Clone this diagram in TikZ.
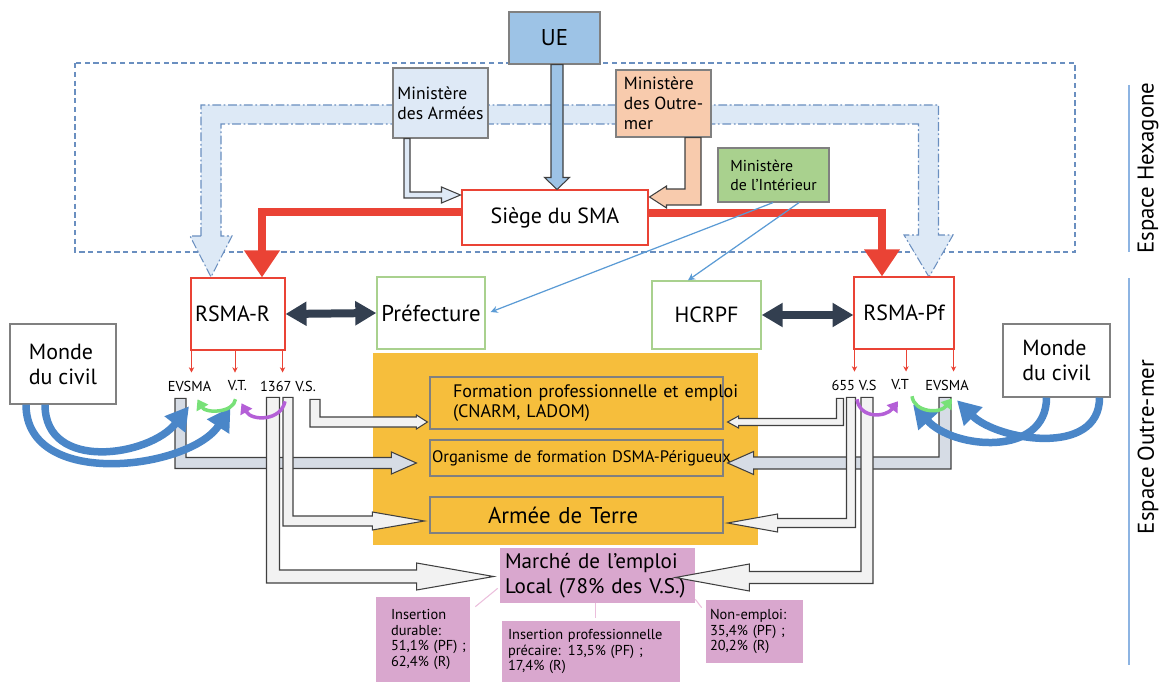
\documentclass[tikz,border=0pt]{standalone}
\usepackage{fontspec}
\setmainfont{PT Sans}
\usepackage{tikz}
\usetikzlibrary{arrows.meta,calc,positioning}
\usepackage{xcolor}
\definecolor{uefill}{RGB}{157,195,230}
\definecolor{armfill}{RGB}{222,233,246}
\definecolor{omfill}{RGB}{248,203,173}
\definecolor{intfill}{RGB}{169,209,142}
\definecolor{boxgrey}{RGB}{128,128,128}
\definecolor{smared}{RGB}{234,67,53}
\definecolor{prefgreen}{RGB}{169,209,142}
\definecolor{darknavy}{RGB}{51,63,80}
\definecolor{zonefill}{RGB}{246,190,60}
\definecolor{mauve}{RGB}{217,167,206}
\definecolor{bandfill}{RGB}{221,233,246}
\definecolor{bandline}{RGB}{106,143,192}
\definecolor{arcblue}{RGB}{74,134,200}
\definecolor{arcgreen}{RGB}{120,225,120}
\definecolor{arcpurple}{RGB}{180,95,215}
\definecolor{flowfill}{RGB}{242,242,242}
\definecolor{evfill}{RGB}{214,220,229}
\definecolor{flowline}{RGB}{64,64,64}
\definecolor{intline}{RGB}{91,155,213}
\definecolor{pinkline}{RGB}{235,190,220}
\definecolor{spaceline}{RGB}{141,180,226}
\newcommand\fsz[2]{\fontsize{#1}{#2}\selectfont}
\def\pxu{0.569055pt}
% L-shaped block arrow: style, top of bar, tip, half band, half head, head length
\newcommand\blockarrow[6]{%
  \draw[#1] let \p1=(#2), \p2=(#3) in
    ({\x1-(#4)*\pxu},\y1) -- ({\x1-(#4)*\pxu},{\y2-abs(#4)*\pxu})
    -- ({\x2-(#6)*\pxu},{\y2-abs(#4)*\pxu}) -- ({\x2-(#6)*\pxu},{\y2-(#5)*\pxu})
    -- (\x2,\y2) -- ({\x2-(#6)*\pxu},{\y2+(#5)*\pxu})
    -- ({\x2-(#6)*\pxu},{\y2+abs(#4)*\pxu}) -- ({\x1+(#4)*\pxu},{\y2+abs(#4)*\pxu})
    -- ({\x1+(#4)*\pxu},\y1) -- cycle;}

\begin{document}
\begin{tikzpicture}[x=0.02cm, y=-0.02cm,
  box/.style={draw=boxgrey, line width=0.7pt, inner sep=0pt, align=left},
  rbox/.style={draw=smared, line width=0.6pt, fill=white, inner sep=0pt},
  gbox/.style={draw=prefgreen, line width=0.8pt, fill=white, inner sep=0pt},
  ibox/.style={draw=boxgrey, line width=0.7pt, inner ysep=0pt, align=left},
  pbox/.style={fill=mauve, inner ysep=0pt, align=left},
  tag/.style={inner sep=1pt, font=\fsz{8.2}{9}},
  flow/.style={draw=flowline, line width=0.6pt, fill=flowfill, line join=miter},
  redarrow/.style={draw=smared, line width=0.16cm, line join=miter,
    -{Triangle[length=0.54cm, width=0.68cm]}},
  dblarrow/.style={draw=darknavy, line width=0.16cm,
    {Triangle[length=0.42cm, width=0.46cm]}-{Triangle[length=0.42cm, width=0.46cm]}},
  thinred/.style={draw=smared, line width=0.4pt, -{Stealth[length=3pt, width=3pt]}},
  intarrow/.style={draw=intline, line width=0.7pt, -{Stealth[length=4pt, width=4pt]}},
  bluearc/.style={draw=arcblue, line width=0.15cm, -{Triangle[length=0.46cm, width=0.5cm]}},
  smallarc/.style={line width=0.07cm, -{Triangle[length=0.2cm, width=0.26cm]}},
  spacebar/.style={draw=spaceline, line width=0.6pt}]
  \useasboundingbox (0,0) rectangle (1162,682);

  % Espace Hexagone frame
  \draw[bandline, line width=0.6pt, dash pattern=on 3pt off 2pt]
    (75,63) rectangle (1075,252);
  % wide band towards both RSMA
  \filldraw[fill=bandfill, draw=bandline, line width=0.6pt,
    dash pattern=on 5pt off 1.5pt on 1pt off 1.5pt]
    (201,236) -- (201,105) -- (938.5,105) -- (938.5,235) -- (953,235)
    -- (929,277) -- (904,235) -- (918.5,235) -- (918.5,124) -- (221,124)
    -- (221,236) -- (232,236) -- (211,277) -- (190,236) -- cycle;

  % top level
  \node[box, fill=uefill, align=center, minimum width=1.82cm, minimum height=1.04cm,
    font=\fsz{13}{15}] (ue) at (554.5,38) {UE};
  \node[box, fill=armfill, minimum width=1.9cm, minimum height=1.4cm,
    font=\fsz{10}{11.4}] (armees) at (440.5,103) {Ministère\\des Armées};
  \node[box, fill=omfill, minimum width=1.9cm, minimum height=1.34cm,
    font=\fsz{10}{11.4}] (outremer) at (663.5,103.5) {Ministère\\des Outre-\\mer};
  \node[box, fill=intfill, minimum width=2.22cm, minimum height=1.08cm,
    font=\fsz{9}{10.8}] (interieur) at (773.5,175) {Ministère\\de l’Intérieur};
  \node[rbox, minimum width=3.72cm, minimum height=1.1cm,
    font=\fsz{12.5}{15}] (siege) at (555,217.5) {Siège du SMA};

  % second level
  \node[rbox, align=left, text width=1.72cm, inner xsep=0.08cm, minimum height=1.44cm,
    font=\fsz{12.5}{15}] (rsmaR) at (238,314) {RSMA-R};
  \node[gbox, minimum width=2.16cm, minimum height=1.44cm,
    font=\fsz{13}{15}] (prefecture) at (431,313) {Préfecture};
  \node[gbox, minimum width=2.18cm, minimum height=1.36cm,
    font=\fsz{12.5}{15}] (hcrpf) at (706.5,315) {HCRPF};
  \node[rbox, minimum width=2cm, minimum height=1.44cm,
    font=\fsz{12.5}{15}] (rsmaPf) at (904,313) {RSMA-Pf};
  \node[box, fill=white, minimum width=2.12cm, minimum height=1.6cm,
    font=\fsz{12.5}{14.2}] (mondeL) at (63,364) {Monde\\du civil};
  \node[box, fill=white, minimum width=2.14cm, minimum height=1.46cm,
    font=\fsz{12.5}{14.2}] (mondeR) at (1056.5,360.5) {Monde\\du civil};

  % outcomes
  \fill[zonefill] (373,353) rectangle (758,545);
  \node[ibox, text width=4.94cm, inner xsep=0.46cm, minimum height=1.04cm,
    font=\fsz{10.3}{11}] (formation) at (576.5,403)
    {\mbox{Formation professionnelle et emploi}\\(CNARM, LADOM)};
  \node[ibox, text width=5.78cm, inner xsep=0.04cm, minimum height=0.72cm,
    font=\fsz{9.45}{11}] (organisme) at (576.5,458)
    {\mbox{Organisme de formation DSMA-Périgueux}};
  \node[ibox, text width=3.54cm, inner xsep=1.16cm, minimum height=0.72cm,
    font=\fsz{13}{15}] (armee) at (576.5,515) {Armée de Terre};
  \node[pbox, text width=3.7cm, inner xsep=0.1cm, minimum height=1.1cm,
    font=\fsz{12}{14.2}] (marche) at (597.5,575.5)
    {Marché de l’emploi\\Local (78\% des V.S.)};
  \node[pbox, text width=1.28cm, inner xsep=0.3cm, minimum height=1.7cm,
    font=\fsz{8.2}{8.9}] (durable) at (423,639.5)
    {Insertion\\durable:\\\mbox{51,1\% (PF) ;}\\\mbox{62,4\% (R)}};
  \node[pbox, text width=3.32cm, inner xsep=0.12cm, minimum height=1.22cm,
    font=\fsz{8.2}{8.9}] (precaire) at (591,651.5)
    {\mbox{Insertion professionnelle}\\\mbox{précaire: 13,5\% (PF) ;}\\17,4\% (R)};
  \node[pbox, text width=1.78cm, inner xsep=0.08cm, minimum height=1.26cm,
    font=\fsz{8.2}{8.9}] (nonemploi) at (754.5,631.5)
    {\mbox{Non-emploi:}\\\mbox{35,4\% (PF) ;}\\20,2\% (R)};

  % volunteer tags
  \node[tag] (evsmaL) at (189.5,386) {EVSMA};
  \node[tag] (vtL) at (237.5,386) {V.T.};
  \node[tag] (vsL) at (288,386) {1367 V.S.};
  \node[tag] (vsR) at (854,385) {655 V.S};
  \node[tag] (vtR) at (900,385) {V.T};
  \node[tag] (evsmaR) at (947,385) {EVSMA};

  % side labels
  \node[rotate=90, font=\fsz{13}{15}] (hexa) at (1148,168) {Espace Hexagone};
  \node[rotate=90, font=\fsz{13}{15}] (omer) at (1148,447) {Espace Outre-mer};
  \draw[spacebar] (1129,85) -- (1129,252);
  \draw[spacebar] (1129,278) -- (1129,665);

  % funding and tutelle
  \draw[flowline, line width=0.6pt, fill=uefill] let \p1=($(ue.south)+(2.5,0)$),
    \p2=($(siege.north)+(2,0)$) in
    ({\x1-6*\pxu},\y1) -- ({\x1-6*\pxu},{\y2+12*\pxu}) -- ({\x1-12.5*\pxu},{\y2+12*\pxu})
    -- (\x1,\y2) -- ({\x1+12.5*\pxu},{\y2+12*\pxu}) -- ({\x1+6*\pxu},{\y2+12*\pxu})
    -- ({\x1+6*\pxu},\y1) -- cycle;
  \blockarrow{flow, fill=armfill}{$(armees.south)+(-33.5,0)$}{$(siege.west)+(-1,-22.5)$}{3}{8}{19}
  \blockarrow{flow, fill=omfill}{$(outremer.south)+(29.5,0)$}{$(siege.east)+(1,-20.5)$}{-8}{11}{-17}
  \draw[redarrow] ($(siege.west)+(0,-5.5)$) -| ($(rsmaR.north)+(24,0)$);
  \draw[redarrow] ($(siege.east)+(0,-4.5)$) -| ($(rsmaPf.north)+(-22,0)$);
  \draw[intarrow] ($(interieur.south)+(-0.5,0)$) -- ($(prefecture.east)+(5,-1)$);
  \draw[intarrow] ($(interieur.south)+(25.5,0)$) -- ($(hcrpf.north)+(-18.5,0)$);
  \draw[dblarrow] (rsmaR.east) -- (prefecture.west);
  \draw[dblarrow] (hcrpf.east) -- (hcrpf.east -| rsmaPf.west);

  % RSMA to volunteers
  \draw[thinred] ($(rsmaR.south west)+(1,0)$) -- ($(rsmaR.south west)+(1,22)$);
  \draw[thinred] ($(rsmaR.south)+(-3,0)$) -- ($(rsmaR.south)+(-3,22)$);
  \draw[thinred] ($(rsmaR.south east)+(-3,0)$) -- ($(rsmaR.south east)+(-3,22)$);
  \draw[thinred] ($(rsmaPf.south west)+(1,0)$) -- ($(rsmaPf.south west)+(1,22)$);
  \draw[thinred] ($(rsmaPf.south)+(2,0)$) -- ($(rsmaPf.south)+(2,22)$);
  \draw[thinred] ($(rsmaPf.south east)+(-1,0)$) -- ($(rsmaPf.south east)+(-1,22)$);

  % flows of the Reunion side
  \blockarrow{flow, fill=evfill}{$(evsmaL.south)+(-9,5)$}{$(organisme.west)+(-13,5)$}{5.5}{11}{25}
  \blockarrow{flow}{$(vsL.south)+(-15,4)$}{$(marche.west)+(-6,1)$}{6.5}{13.5}{77}
  \blockarrow{flow}{$(vsL.south)+(0,4)$}{$(armee.west)+(-5,6)$}{5}{9}{52}
  \blockarrow{flow}{$(vsL.south)+(27,6)$}{$(formation.west)+(-2,19)$}{5}{7}{11}
  % flows of the Polynesian side
  \blockarrow{flow, fill=evfill}{$(evsmaR.south)+(-2,5)$}{$(organisme.east)+(4,5)$}{-6}{11.5}{-26}
  \blockarrow{flow}{$(vsR.south)+(13,5)$}{$(marche.east)+(-20,2)$}{-6}{13.5}{-74}
  \blockarrow{flow}{$(vsR.south)+(-3,5)$}{$(armee.east)+(4,8)$}{-4.5}{9}{-50}
  \blockarrow{flow}{$(vsR.south)+(-14,6)$}{$(formation.east)+(4,19)$}{-3.5}{6}{-11}

  % recruitment from civil world
  \draw[bluearc] ($(mondeL.south)+(-37,0)$) .. controls +(0,86) and +(-40,62) .. ($(vtL.south)+(-7,14)$);
  \draw[bluearc] ($(mondeL.south)+(-18,0)$) .. controls +(0,68) and +(-39,50) .. ($(evsmaL.south)+(-0.5,13)$);
  \draw[bluearc] ($(mondeR.south)+(-10,0)$) .. controls +(0,60) and +(40,45) .. ($(vtR.south)+(13,12)$);
  \draw[bluearc] ($(mondeR.south)+(43,0)$) .. controls +(0,60) and +(40,40) .. ($(evsmaR.south)+(10,8)$);
  % passages between statuses
  \draw[smallarc, arcgreen] ($(vtL.south)+(-2,6)$) .. controls +(-2,14) and +(8,14) .. ($(evsmaL.south)+(8,6)$);
  \draw[smallarc, arcpurple] ($(vsL.south)+(-3,8)$) .. controls +(-4,20) and +(10,18) .. ($(vtL.south)+(4,10)$);
  \draw[smallarc, arcpurple] ($(vsR.south)+(3,7)$) .. controls +(3,20) and +(-12,16) .. ($(vtR.south)+(-2,9)$);
  \draw[smallarc, arcgreen] ($(vtR.south)+(12,4)$) .. controls +(2,16) and +(-12,16) .. ($(evsmaR.south)+(5,6)$);

  % breakdown of the local job market
  \draw[pinkline, line width=0.6pt] ($(marche.south west)+(-2,-15)$) -- ($(durable.north east)+(5,10)$);
  \draw[pinkline, line width=0.6pt] ($(marche.south)+(-2,0)$) -- ($(marche.south)+(-2,15)$);
  \draw[pinkline, line width=0.6pt] ($(marche.south east)+(0,-4)$) -- ($(nonemploi.north west)+(-4,8)$);
\end{tikzpicture}
\end{document}
